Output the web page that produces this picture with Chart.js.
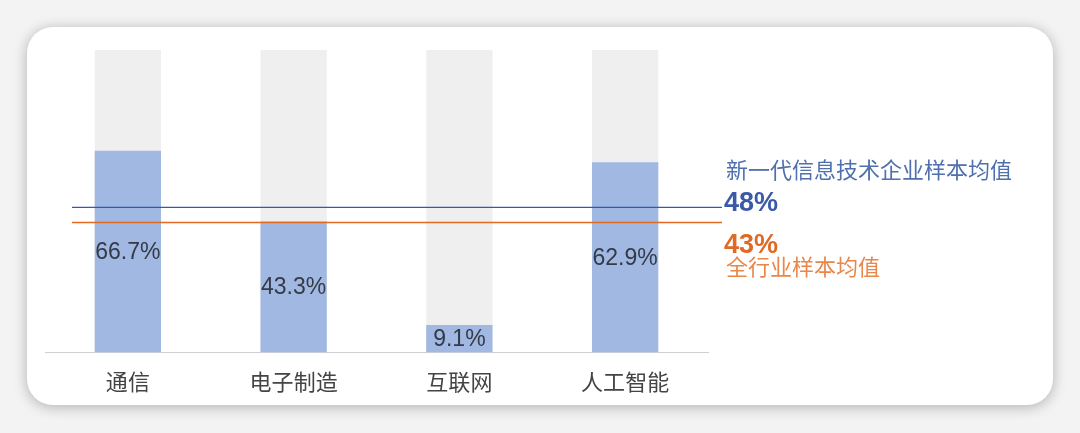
<!DOCTYPE html>
<html>
<head>
<meta charset="utf-8">
<script src="https://cdn.jsdelivr.net/npm/chart.js@4.4.0/dist/chart.umd.min.js"></script>
<style>
  html, body { margin: 0; padding: 0; width: 1080px; height: 433px; background: #f3f3f3; overflow: hidden; }
  #card {
    position: absolute; left: 27px; top: 27px; width: 1026px; height: 378px;
    background: #fff; border-radius: 26px;
    box-shadow: 0 2px 14px rgba(0,0,0,0.28);
  }
  #wrap { position: absolute; left: 0; top: 0; width: 1080px; height: 433px; }
</style>
</head>
<body>
<div id="card"></div>
<div id="wrap"><canvas id="chart"></canvas></div>
<script>
  // categories and values (percent)
  const categories = ['通信', '电子制造', '互联网', '人工智能'];
  const shareValues = [66.7, 43.3, 9.1, 62.9];
  const fullValues = [100, 100, 100, 100];
  // reference averages
  const avgLabels = ['新一代信息技术企业样本均值', '全行业样本均值'];
  const avgValues = [48, 43];

  const font = '"Noto Sans CJK SC", "Noto Sans", sans-serif';

  // value labels centred inside the blue bars
  const valueLabels = {
    id: 'valueLabels',
    afterDatasetsDraw(chart) {
      const ctx = chart.ctx;
      const meta = chart.getDatasetMeta(1);
      ctx.save();
      ctx.font = '23px "Liberation Sans", Arial, sans-serif';
      ctx.fillStyle = '#343a48';
      ctx.textAlign = 'center';
      ctx.textBaseline = 'middle';
      meta.data.forEach(function(bar, i) {
        const y = (bar.y + bar.base) / 2 + 1;
        ctx.fillText(shareValues[i].toFixed(1) + '%', bar.x, y);
      });
      ctx.restore();
    }
  };

  // average lines plus their notes on the right
  const avgLines = {
    id: 'avgLines',
    afterDatasetsDraw(chart) {
      const ctx = chart.ctx;
      const area = chart.chartArea;
      const yScale = chart.scales.y;
      const yBlue = yScale.getPixelForValue(avgValues[0]);
      const yOrange = yScale.getPixelForValue(avgValues[1]);
      const x0 = area.left + 27;
      const x1 = area.right + 14;
      const tx = x1 + 4;
      ctx.save();
      ctx.lineWidth = 1.4;
      ctx.strokeStyle = '#3558b0';
      ctx.beginPath(); ctx.moveTo(x0, yBlue); ctx.lineTo(x1, yBlue); ctx.stroke();
      ctx.strokeStyle = '#e06a22';
      ctx.beginPath(); ctx.moveTo(x0, yOrange); ctx.lineTo(x1, yOrange); ctx.stroke();

      ctx.textAlign = 'left';
      ctx.textBaseline = 'alphabetic';
      ctx.font = '22px ' + font;
      ctx.fillStyle = '#4f6fae';
      ctx.fillText(avgLabels[0], tx, yBlue - 29);
      ctx.font = 'bold 27px "Liberation Sans", sans-serif';
      ctx.fillStyle = '#3a5aa8';
      ctx.fillText(avgValues[0] + '%', tx - 2, yBlue + 4);
      ctx.fillStyle = '#e06a25';
      ctx.fillText(avgValues[1] + '%', tx - 2, yOrange + 31);
      ctx.font = '22px ' + font;
      ctx.fillStyle = '#e8874a';
      ctx.fillText(avgLabels[1], tx, yOrange + 53);
      ctx.restore();
    }
  };

  new Chart(document.getElementById('chart'), {
    type: 'bar',
    data: {
      labels: categories,
      datasets: [
        {
          label: 'full',
          data: fullValues,
          backgroundColor: '#efefef',
          order: 2
        },
        {
          label: 'share',
          data: shareValues,
          backgroundColor: '#a1b8e3',
          order: 1
        }
      ]
    },
    options: {
      responsive: true,
      maintainAspectRatio: false,
      animation: false,
      layout: { padding: { left: 45, right: 372, top: 50, bottom: 30 } },
      datasets: {
        bar: { grouped: false, categoryPercentage: 1, barPercentage: 0.4 }
      },
      plugins: {
        legend: { display: false },
        tooltip: { enabled: false }
      },
      scales: {
        x: {
          grid: { display: false },
          border: { display: true, color: '#cfcfcf', width: 1 },
          ticks: { color: '#444', font: { size: 22, family: font }, padding: 8 }
        },
        y: {
          display: false,
          min: 0,
          max: 100
        }
      }
    },
    plugins: [valueLabels, avgLines]
  });
</script>
</body>
</html>
